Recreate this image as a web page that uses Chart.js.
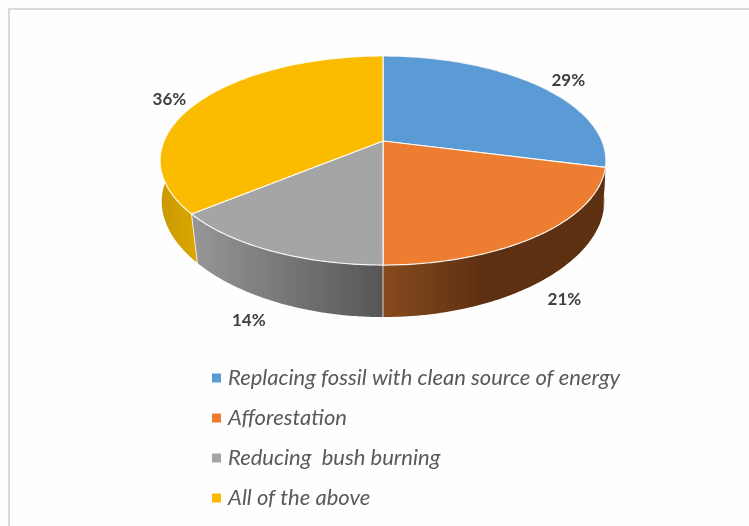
<!DOCTYPE html>
<html>
<head>
<meta charset="utf-8">
<style>
  html, body { margin: 0; padding: 0; background: #fefefe; }
  canvas { display: block; }
</style>
<script src="https://cdn.jsdelivr.net/npm/chart.js@4/dist/chart.umd.min.js"></script>
</head>
<body>
<canvas id="chart" width="749" height="526"></canvas>
<script>
const categories = ['Replacing fossil with clean source of energy', 'Afforestation', 'Reducing  bush burning', 'All of the above'];
const shares = [29, 21, 14, 36];

const topColors = ['#5B9BD5', '#ED7D31', '#A5A5A5', '#FBBC00'];
// wall gradients: [x start, colour, x end, colour]
const wallShades = [
    [560, '#5e3012', 606, '#5e3012'],
    [383, '#874b1d', 480, '#5e3012'],
    [197, '#959595', 383, '#565656'],
    [162, '#c99a00', 197, '#dba600']
];
// label offset from the rim point at the middle of each slice
const labelNudges = [[30, -5], [24, 65], [-22, 70], [-30, -2]];

// the pie is tilted with perspective, so the rim is not centred on the apex
const TILT_K = -0.1866;
const TILT_Y = 0.7156;
const TILT_X = 1.553;

function rimPoint(arc, angle) {
    const t = angle + Math.PI / 2;
    const sx = Math.sin(t);
    const sy = -Math.cos(t);
    const w = 1 + TILT_K * sy;
    return {
        x: TILT_X * arc.outerRadius * sx / w,
        y: TILT_Y * arc.outerRadius * sy / w
    };
}

function floorPoint(arc, angle) {
    const p = rimPoint(arc, angle);
    return { x: p.x * (1 - 0.00042 * Math.abs(p.y)), y: p.y + 44.7 + 0.059 * p.y };
}

function traceEdge(ctx, arc, fromA, toA, getPoint, first) {
    const steps = 80;
    for (let i = 0; i <= steps; i++) {
        const a = fromA + (toA - fromA) * i / steps;
        const p = getPoint(arc, a);
        if (i === 0 && first) ctx.moveTo(arc.x + p.x, arc.y + p.y);
        else ctx.lineTo(arc.x + p.x, arc.y + p.y);
    }
}

const tiltedPie = {
    id: 'tiltedPie',
    beforeDraw(chart) {
        const ctx = chart.ctx;
        ctx.save();
        ctx.strokeStyle = '#d9d9d9';
        ctx.lineWidth = 2;
        ctx.beginPath();
        ctx.moveTo(9, 526);
        ctx.lineTo(9, 9);
        ctx.lineTo(749, 9);
        ctx.stroke();
        ctx.restore();
    },
    beforeDatasetDraw(chart, args) {
        const ctx = chart.ctx;
        const arcs = args.meta.data;
        ctx.save();

        // walls first, the top face paints over the hidden back part
        arcs.forEach((arc, i) => {
            const shade = wallShades[i];
            const grad = ctx.createLinearGradient(shade[0], 0, shade[2], 0);
            grad.addColorStop(0, shade[1]);
            grad.addColorStop(1, shade[3]);
            ctx.beginPath();
            traceEdge(ctx, arc, arc.startAngle, arc.endAngle, rimPoint, true);
            traceEdge(ctx, arc, arc.endAngle, arc.startAngle, floorPoint, false);
            ctx.closePath();
            ctx.fillStyle = grad;
            ctx.fill();
        });

        // pale seams where front walls meet, the side one at the far right is not shown
        ctx.strokeStyle = 'rgba(255,255,255,0.75)';
        ctx.lineWidth = 1;
        arcs.forEach(arc => {
            const a = rimPoint(arc, arc.endAngle);
            const b = floorPoint(arc, arc.endAngle);
            if (a.y < 40) return;
            ctx.beginPath();
            ctx.moveTo(arc.x + a.x, arc.y + a.y);
            ctx.lineTo(arc.x + b.x, arc.y + b.y);
            ctx.stroke();
        });

        // top face
        arcs.forEach((arc, i) => {
            ctx.beginPath();
            ctx.moveTo(arc.x, arc.y);
            traceEdge(ctx, arc, arc.startAngle, arc.endAngle, rimPoint, false);
            ctx.closePath();
            ctx.fillStyle = topColors[i];
            ctx.fill();
            ctx.strokeStyle = 'rgba(255,255,255,0.9)';
            ctx.lineWidth = 1.2;
            ctx.lineJoin = 'round';
            ctx.stroke();
        });

        ctx.restore();
        return false;
    },
    afterDraw(chart) {
        const ctx = chart.ctx;
        const arcs = chart.getDatasetMeta(0).data;
        ctx.save();

        // percent labels
        ctx.font = 'bold 17px Lato, "Open Sans", sans-serif';
        ctx.fillStyle = '#404040';
        ctx.textAlign = 'center';
        ctx.textBaseline = 'middle';
        arcs.forEach((arc, i) => {
            const p = rimPoint(arc, (arc.startAngle + arc.endAngle) / 2);
            const n = labelNudges[i];
            ctx.fillText(shares[i] + '%', arc.x + p.x + n[0], arc.y + p.y + n[1]);
        });

        // legend
        ctx.font = 'italic 22px Lato, "Open Sans", sans-serif';
        ctx.textAlign = 'left';
        categories.forEach((name, i) => {
            const y = 378 + i * 40;
            ctx.fillStyle = topColors[i];
            ctx.fillRect(212, y - 4.5, 9, 9);
            ctx.fillStyle = '#595959';
            ctx.fillText(name, 228, y);
        });
        ctx.restore();
    }
};

new Chart(document.getElementById('chart'), {
    type: 'pie',
    data: {
        labels: categories,
        datasets: [{
            data: shares,
            backgroundColor: topColors,
            borderWidth: 0
        }]
    },
    options: {
        responsive: false,
        animation: false,
        layout: { padding: { left: 17, bottom: 244 } },
        plugins: {
            legend: { display: false },
            tooltip: { enabled: false }
        }
    },
    plugins: [tiltedPie]
});
</script>
</body>
</html>
